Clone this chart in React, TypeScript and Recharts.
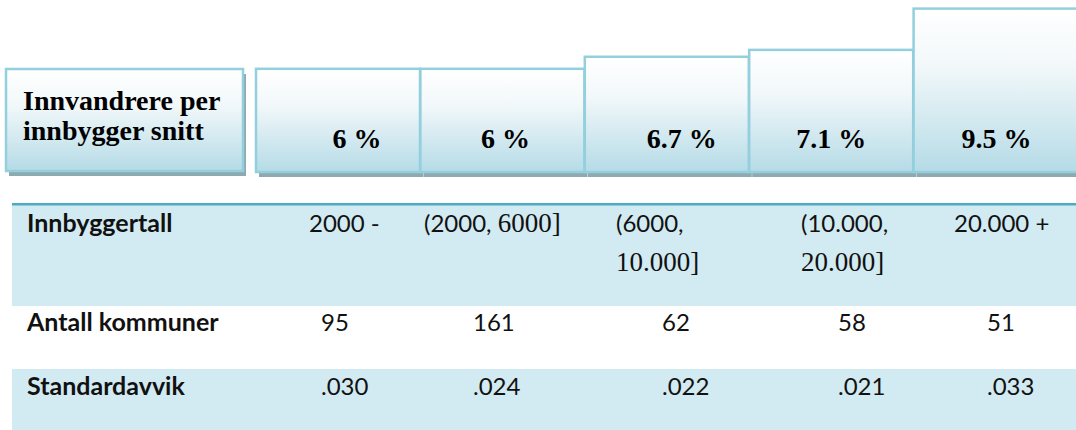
import React from "react";
import { BarChart, Bar, XAxis, YAxis } from "recharts";

// data
const POP_RANGES = [["2000 -"], ["(2000, 6000]"], ["(6000,", "10.000]"], ["(10.000,", "20.000]"], ["20.000 +"]];
const AVG_SHARE = [6, 6, 6.7, 7.1, 9.5];
const MUNICIPALITIES = [95, 161, 62, 58, 51];
const STD_DEV = [0.03, 0.024, 0.022, 0.021, 0.033];
const ROW_LABELS = ["Innbyggertall", "Antall kommuner", "Standardavvik"];
const BOX_LABEL = ["Innvandrere per", "innbygger snitt"];

// layout
const LABEL_DX = [19, 3, 15, 0, 1];
const RANGE_X = [309, 424, 616, 801, 954];
const CELL_X = [321, 473, 662, 838, 987];

const SERIF = "'Liberation Serif', 'Times New Roman', serif";
const SANS = "Lato, 'Open Sans', sans-serif";
const STROKE = "#94cfdd";
const SHADOW = "#5f8590";

const data = POP_RANGES.map((r, i) => ({ range: r.join(" "), share: AVG_SHARE[i] }));

function Gradient({ id }: { id: string }) {
  return (
    <linearGradient id={id} x1="0" y1="0" x2="0" y2="1">
      <stop offset="0%" stopColor="#ffffff" />
      <stop offset="35%" stopColor="#f2f8fa" />
      <stop offset="100%" stopColor="#b5dbe6" />
    </linearGradient>
  );
}

function ShadowBar(props: any) {
  const { x, y, width, height } = props;
  return (
    <g>
      <rect x={x + 3} y={y + 5} width={width} height={height} fill={SHADOW} fillOpacity={0.7} />
      <rect x={x} y={y} width={width} height={height} fill="url(#barGrad)" stroke={STROKE} strokeWidth={2.5} />
    </g>
  );
}

function ShareLabel(p: any) {
  const i = p.index ?? 0;
  return (
    <text
      x={p.x + p.width / 2 + LABEL_DX[i]}
      y={p.y + p.height - 24}
      textAnchor="middle"
      style={{ fontFamily: SERIF, fontWeight: 700, fontSize: 28, fill: "#000" }}
    >
      {`${p.value} %`}
    </text>
  );
}

// closing "...]" parts are set in a serif face, as in the source table
function RangeLine({ text, x, y }: { text: string; x: number; y: number }) {
  const m = text.match(/^(.*?)(\d[\d.]*\])$/);
  const head = m ? m[1] : text;
  const tail = m ? m[2] : "";
  return (
    <text x={x} y={y} style={{ fontFamily: SANS, fontSize: 24, fill: "#111" }}>
      <tspan>{head}</tspan>
      {tail && <tspan style={{ fontFamily: SERIF, fontSize: 27 }}>{tail}</tspan>}
    </text>
  );
}

function Table() {
  const fmt = (v: number) => v.toFixed(3).replace(/^0/, "");
  const labelStyle = { fontFamily: SANS, fontWeight: 700, fontSize: 25, fill: "#111" };
  const cellStyle = { fontFamily: SANS, fontSize: 24, fill: "#111" };
  return (
    <svg width={1076} height={430} style={{ position: "absolute", left: 0, top: 0 }}>
      <defs>
        <Gradient id="boxGrad" />
      </defs>
      {/* header box */}
      <rect x={9} y={74} width={237} height={102} fill={SHADOW} fillOpacity={0.7} />
      <rect x={6} y={69} width={237} height={102} fill="url(#boxGrad)" stroke={STROKE} strokeWidth={2.5} />
      {BOX_LABEL.map((t, i) => (
        <text key={t} x={23} y={110 + i * 30} style={{ fontFamily: SERIF, fontWeight: 700, fontSize: 28, fill: "#000" }}>
          {t}
        </text>
      ))}

      {/* table */}
      <rect x={12} y={205} width={1064} height={101} fill="#d2eaf1" />
      <rect x={12} y={369} width={1064} height={61} fill="#d2eaf1" />
      <rect x={12} y={203} width={1064} height={2.5} fill="#4bacc6" />

      <text x={27} y={232} style={labelStyle}>{ROW_LABELS[0]}</text>
      <text x={27} y={331} style={labelStyle}>{ROW_LABELS[1]}</text>
      <text x={27} y={395} style={labelStyle}>{ROW_LABELS[2]}</text>

      {POP_RANGES.map((lines, i) =>
        lines.map((l, j) => <RangeLine key={`${i}-${j}`} text={l} x={RANGE_X[i]} y={232 + j * 39} />)
      )}
      {MUNICIPALITIES.map((v, i) => (
        <text key={`m${i}`} x={CELL_X[i]} y={331} style={cellStyle}>{v}</text>
      ))}
      {STD_DEV.map((v, i) => (
        <text key={`s${i}`} x={CELL_X[i]} y={395} style={cellStyle}>{fmt(v)}</text>
      ))}
    </svg>
  );
}

export default function App() {
  return (
    <div style={{ position: "absolute", left: 0, top: 0, width: 1076, height: 430, overflow: "hidden", background: "#fff" }}>
      <Table />
      <div style={{ position: "absolute", left: 0, top: 0 }}>
        <BarChart
          width={1078}
          height={180}
          data={data}
          margin={{ top: 0, right: 0, bottom: 8, left: 256 }}
          barCategoryGap={0}
          barGap={0}
        >
          <defs>
            <Gradient id="barGrad" />
          </defs>
          <XAxis dataKey="range" hide />
          <YAxis hide domain={[0, 10]} />
          <Bar dataKey="share" isAnimationActive={false} shape={ShadowBar} label={ShareLabel} />
        </BarChart>
      </div>
    </div>
  );
}
